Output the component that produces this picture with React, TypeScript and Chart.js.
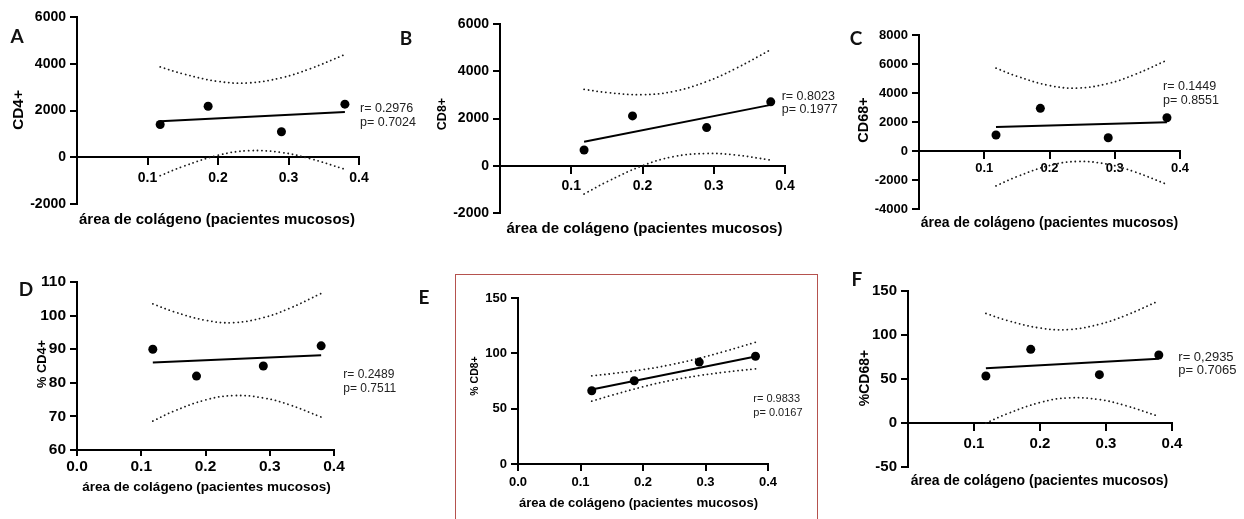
import React, { useEffect, useRef } from 'react';
import { Chart, registerables } from 'chart.js';

Chart.register(...registerables);

// ---------- data ----------
const collagenArea = [0.118, 0.186, 0.29, 0.38];
const fitRange = [0.118, 0.38];
const bandPoints = [0.118, 0.15, 0.2, 0.2435, 0.29, 0.33, 0.38];

// A: CD4+
const cd4Count = [1400, 2180, 1090, 2270];
const cd4CountFit = [1538, 1940];
const cd4CountUpper = [3865, 3572, 3245, 3181, 3401, 3780, 4393];
const cd4CountLower = [-789, -398, 83, 281, 203, -54, -513];

// B: CD8+
const cd8Count = [667, 2110, 1614, 2705];
const cd8CountFit = [1019, 2577];
const cd8CountUpper = [3234, 3098, 3011, 3145, 3564, 4104, 4912];
const cd8CountLower = [-1196, -680, 3, 385, 520, 456, 242];

// C: CD68+
const cd68Count = [1103, 2943, 917, 2297];
const cd68CountFit = [1655, 1979];
const cd68CountUpper = [5716, 5159, 4514, 4340, 4658, 5262, 6260];
const cd68CountLower = [-2406, -1769, -1002, -720, -924, -1428, -2302];

// D: % CD4+
const cd4Pct = [90, 82, 85, 91];
const cd4PctFit = [86.05, 88.2];
const cd4PctUpper = [103.5, 101.2, 98.6, 97.9, 99.4, 102.1, 106.6];
const cd4PctLower = [68.6, 71.5, 74.9, 76.2, 75.5, 73.5, 69.8];

// E: % CD8+
const cd8Pct = [66.2, 75.2, 92.1, 97.4];
const cd8PctFit = [67.4, 97.2];
const cd8PctUpper = [79.6, 81.6, 85.3, 89.6, 95.6, 101.7, 110.0];
const cd8PctLower = [56.8, 62.1, 69.8, 75.4, 79.9, 82.9, 86.0];

// F: %CD68+
const cd68Pct = [53.4, 83.7, 54.9, 77.3];
const cd68PctFit = [62.2, 73.1];
const cd68PctUpper = [124.5, 116.6, 107.9, 106.2, 112.2, 122.3, 138.8];
const cd68PctLower = [-0.1, 10.4, 23.3, 28.6, 26.6, 19.7, 7.5];

const xTitle = 'área de colágeno (pacientes mucosos)';

type Panel = {
  letter: string;
  letterPos: [number, number];
  yTitle: string;
  yTitleSize: number;
  yTitlePos: [number, number];
  xTitleSize: number;
  xTitlePos: [number, number];
  stats: [string, string];
  statsPos: [number, number, number];
  statsSize: number;
  values: number[];
  fit: number[];
  upper: number[];
  lower: number[];
  yMin: number;
  yMax: number;
  yStep: number;
  xAtZero: boolean;
  area: { l: number; t: number; r: number; b: number };
  tickSize: number;
  xPad: number;
  xTickLen: number;
};

const panels: Panel[] = [
  {
    letter: 'A', letterPos: [17, 35],
    yTitle: 'CD4+', yTitleSize: 15.5, yTitlePos: [17.5, 110],
    xTitleSize: 15, xTitlePos: [217, 218],
    stats: ['r= 0.2976', 'p= 0.7024'], statsPos: [360, 108, 122], statsSize: 12.5,
    values: cd4Count, fit: cd4CountFit, upper: cd4CountUpper, lower: cd4CountLower,
    yMin: -2000, yMax: 6000, yStep: 2000, xAtZero: true,
    area: { l: 77, t: 17, r: 359, b: 204 }, tickSize: 14, xPad: 5, xTickLen: 7,
  },
  {
    letter: 'B', letterPos: [406, 37],
    yTitle: 'CD8+', yTitleSize: 12.5, yTitlePos: [442, 114],
    xTitleSize: 15, xTitlePos: [644.5, 226.7],
    stats: ['r= 0.8023', 'p= 0.1977'], statsPos: [781.7, 96.7, 110], statsSize: 12.5,
    values: cd8Count, fit: cd8CountFit, upper: cd8CountUpper, lower: cd8CountLower,
    yMin: -2000, yMax: 6000, yStep: 2000, xAtZero: true,
    area: { l: 500, t: 24, r: 785, b: 213 }, tickSize: 14, xPad: 5, xTickLen: 7,
  },
  {
    letter: 'C', letterPos: [856, 37],
    yTitle: 'CD68+', yTitleSize: 14.5, yTitlePos: [863, 120],
    xTitleSize: 14, xTitlePos: [1049.5, 221.7],
    stats: ['r= 0.1449', 'p= 0.8551'], statsPos: [1163, 87, 100.7], statsSize: 12.5,
    values: cd68Count, fit: cd68CountFit, upper: cd68CountUpper, lower: cd68CountLower,
    yMin: -4000, yMax: 8000, yStep: 2000, xAtZero: true,
    area: { l: 919, t: 35, r: 1180, b: 209 }, tickSize: 13, xPad: 3, xTickLen: 7,
  },
  {
    letter: 'D', letterPos: [26, 288],
    yTitle: '% CD4+', yTitleSize: 12.8, yTitlePos: [42, 364],
    xTitleSize: 13.5, xTitlePos: [206.5, 486.7],
    stats: ['r= 0.2489', 'p= 0.7511'], statsPos: [343.3, 375, 388.3], statsSize: 12,
    values: cd4Pct, fit: cd4PctFit, upper: cd4PctUpper, lower: cd4PctLower,
    yMin: 60, yMax: 110, yStep: 10, xAtZero: false,
    area: { l: 77, t: 282, r: 334, b: 450 }, tickSize: 15.5, xPad: 1, xTickLen: 6,
  },
  {
    letter: 'E', letterPos: [424, 296],
    yTitle: '% CD8+', yTitleSize: 10.5, yTitlePos: [474, 376],
    xTitleSize: 13, xTitlePos: [638.5, 502],
    stats: ['r= 0.9833', 'p= 0.0167'], statsPos: [753.3, 397.7, 411.7], statsSize: 11,
    values: cd8Pct, fit: cd8PctFit, upper: cd8PctUpper, lower: cd8PctLower,
    yMin: 0, yMax: 150, yStep: 50, xAtZero: false,
    area: { l: 518, t: 298, r: 768, b: 464 }, tickSize: 13, xPad: 4, xTickLen: 7,
  },
  {
    letter: 'F', letterPos: [857, 278],
    yTitle: '%CD68+', yTitleSize: 14, yTitlePos: [864, 378],
    xTitleSize: 14, xTitlePos: [1039.5, 480],
    stats: ['r= 0,2935', 'p= 0.7065'], statsPos: [1178.3, 357.3, 370], statsSize: 13,
    values: cd68Pct, fit: cd68PctFit, upper: cd68PctUpper, lower: cd68PctLower,
    yMin: -50, yMax: 150, yStep: 50, xAtZero: true,
    area: { l: 908, t: 291, r: 1172, b: 467 }, tickSize: 15, xPad: 5, xTickLen: 7,
  },
];

const SANS = '"Liberation Sans", Arial, Helvetica, sans-serif';
const PL = 90, PT = 14, PR = 24, PB = 34, YW = 50, XH = 26;

function ChartPanel({ p }: { p: Panel }) {
  const ref = useRef<HTMLCanvasElement>(null);
  const w = p.area.r - p.area.l + PL + PR;
  const h = p.area.b - p.area.t + PT + PB;

  useEffect(() => {
    const font = { family: SANS, weight: 'bold' as const, size: p.tickSize };
    const zeroPad = (s: any) => {
      s.paddingLeft = 0; s.paddingRight = 0; s.paddingTop = 0; s.paddingBottom = 0;
    };
    const band = (vals: number[]) => ({
      data: bandPoints.map((x, i) => ({ x, y: vals[i] })),
      showLine: true,
      borderColor: '#1a1a1a',
      borderWidth: 1.8,
      borderDash: [0.1, 4.3],
      borderCapStyle: 'round' as const,
      pointRadius: 0,
      tension: 0.4,
      fill: false,
    });
    const chart = new Chart(ref.current as HTMLCanvasElement, {
      type: 'scatter',
      data: {
        datasets: [
          {
            data: collagenArea.map((x, i) => ({ x, y: p.values[i] })),
            pointRadius: 4.5,
            pointBackgroundColor: '#000',
            pointBorderColor: '#000',
            pointBorderWidth: 0,
          },
          {
            data: fitRange.map((x, i) => ({ x, y: p.fit[i] })),
            showLine: true,
            borderColor: '#000',
            borderWidth: 2,
            pointRadius: 0,
          },
          band(p.upper) as any,
          band(p.lower) as any,
        ],
      },
      options: {
        animation: false,
        responsive: false,
        devicePixelRatio: 1,
        layout: {
          padding: { left: PL - YW, top: PT, right: PR, bottom: p.xAtZero ? PB : PB - XH },
        },
        plugins: { legend: { display: false }, tooltip: { enabled: false } },
        scales: {
          x: {
            type: 'linear',
            min: 0,
            max: 0.4,
            position: (p.xAtZero ? { y: 0 } : 'bottom') as any,
            ticks: {
              stepSize: 0.1,
              font,
              color: '#000',
              padding: p.xPad,
              maxRotation: 0,
              autoSkip: false,
              callback: (v: any) => (p.xAtZero && Math.abs(Number(v)) < 1e-9 ? '' : Number(v).toFixed(1)),
            },
            grid: { drawOnChartArea: false, drawTicks: true, tickLength: p.xTickLen, color: '#000', lineWidth: 2 },
            border: { display: true, color: '#000', width: 2 },
            afterFit: (s: any) => { zeroPad(s); if (!p.xAtZero) s.height = XH; },
          },
          y: {
            type: 'linear',
            min: p.yMin,
            max: p.yMax,
            position: 'left',
            ticks: {
              stepSize: p.yStep,
              font,
              color: '#000',
              padding: 4,
              callback: (v: any) => String(v),
            },
            grid: { drawOnChartArea: false, drawTicks: true, tickLength: 7, color: '#000', lineWidth: 2 },
            border: { display: true, color: '#000', width: 2 },
            afterFit: (s: any) => { zeroPad(s); s.width = YW; },
          },
        },
      },
    });
    return () => chart.destroy();
  }, [p]);

  return (
    <canvas
      ref={ref}
      width={w}
      height={h}
      style={{ position: 'absolute', left: p.area.l - PL, top: p.area.t - PT, width: w, height: h }}
    />
  );
}

function Texts({ p }: { p: Panel }) {
  const lh = p.statsPos[2] - p.statsPos[1];
  return (
    <>
      <div
        style={{
          position: 'absolute', left: p.letterPos[0], top: p.letterPos[1],
          transform: 'translate(-50%, -50%)', font: `bold 19px Lato, "Open Sans", sans-serif`,
          lineHeight: 1, color: '#111',
        }}
      >
        {p.letter}
      </div>
      <div
        style={{
          position: 'absolute', left: p.yTitlePos[0], top: p.yTitlePos[1],
          transform: 'translate(-50%, -50%) rotate(-90deg)', font: `bold ${p.yTitleSize}px ${SANS}`,
          lineHeight: 1, whiteSpace: 'nowrap', color: '#000',
        }}
      >
        {p.yTitle}
      </div>
      <div
        style={{
          position: 'absolute', left: p.xTitlePos[0], top: p.xTitlePos[1],
          transform: 'translate(-50%, -50%)', font: `bold ${p.xTitleSize}px ${SANS}`,
          lineHeight: 1, whiteSpace: 'nowrap', color: '#000',
        }}
      >
        {xTitle}
      </div>
      <div
        style={{
          position: 'absolute', left: p.statsPos[0], top: p.statsPos[1] - lh / 2,
          font: `${p.statsSize}px ${SANS}`, lineHeight: `${lh}px`, whiteSpace: 'nowrap', color: '#222',
        }}
      >
        <div>{p.stats[0]}</div>
        <div>{p.stats[1]}</div>
      </div>
    </>
  );
}

export default function App() {
  return (
    <div
      style={{
        position: 'absolute', left: 0, top: 0, width: 1244, height: 519,
        overflow: 'hidden', background: '#fff',
      }}
    >
      <div
        style={{
          position: 'absolute', left: 455, top: 274, width: 363, height: 260,
          border: '1.5px solid #b5524e', boxSizing: 'border-box',
        }}
      />
      {panels.map((p) => (
        <React.Fragment key={p.letter}>
          <ChartPanel p={p} />
          <Texts p={p} />
        </React.Fragment>
      ))}
    </div>
  );
}
